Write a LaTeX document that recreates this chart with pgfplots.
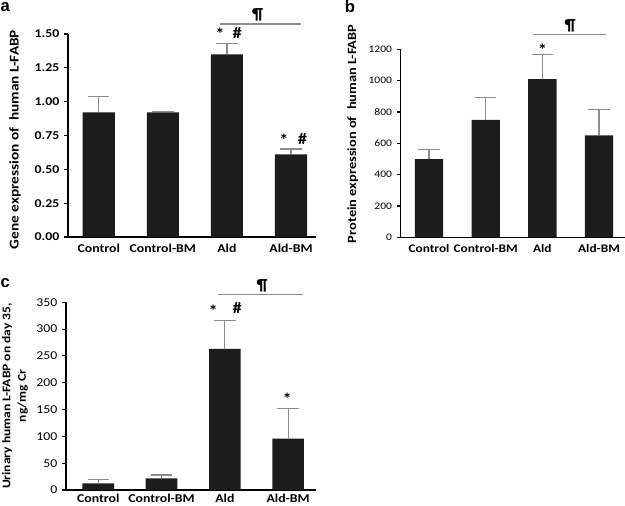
\documentclass[border=0pt]{standalone}
\usepackage{fontspec}
\setmainfont{Carlito}[FakeStretch=1.15]
\newfontfamily\letterfont{Liberation Sans}
\usepackage{pgfplots}
\pgfplotsset{compat=1.18}
\definecolor{barc}{HTML}{1C1C1C}
\definecolor{errc}{HTML}{8C8C8C}
\pgfplotsset{
 panel/.style={
  scale only axis, anchor=south west, clip=false,
  axis x line*=bottom, axis y line*=left,
  axis line style={-, line width=1pt},
  ybar, bar width=0.5, ymin=0,
  xtick={0,1,2,3}, xticklabels={Control, Control-BM, Ald, Ald-BM},
  x tick style={draw=none},
  y tick style={line width=0.8pt, black},
  tick align=outside, major tick length=3pt,
  xticklabel style={font=\fontsize{9}{10}\selectfont\bfseries, inner sep=1pt, yshift=-1pt},
  yticklabel style={font=\fontsize{9}{10}\selectfont},
  /pgf/number format/assume math mode=true,
  ylabel style={font=\fontsize{10}{11.5}\selectfont\bfseries, rotate=0, anchor=center},
 },
 errs/.style={fill=barc, draw=none,
  error bars/.cd, y dir=plus, y explicit,
  error bar style={errc, line width=0.9pt},
  error mark options={errc, line width=0.9pt, mark size=8pt, rotate=90}},
}
\begin{document}
\begin{tikzpicture}
\useasboundingbox (0,0) rectangle (468.75pt,-379.5pt);
% panel a
\begin{axis}[panel, at={(51pt,-177.75pt)}, width=186pt, height=152.25pt,
  xmin=-0.48, xmax=3.39, ymax=1.5, ytick={0,0.25,...,1.5},
  yticklabel style={font=\fontsize{9}{10}\selectfont\bfseries, /pgf/number format/.cd, fixed, fixed zerofill, precision=2},
  ylabel={Gene expression of \ human L-FABP},
  ylabel style={at={(axis description cs:-0.214,0.48)}}]
\addplot[errs] table[x=x, y=y, y error=e] {
x y e
0 0.92 0.12
1 0.92 0.01
2 1.35 0.08
3 0.61 0.04
};
\begin{scope}[font=\fontsize{12}{14}\selectfont\bfseries]
\node at (axis cs:1.89,1.50) {*};
\node at (axis cs:2.16,1.507) {\#};
\node at (axis cs:2.89,0.717) {*};
\node at (axis cs:3.18,0.724) {\#};
\draw[errc, line width=0.9pt] (axis cs:1.89,1.574) -- (axis cs:3.16,1.574);
\node at (axis cs:2.48,1.64) {¶};
\end{scope}
\end{axis}
% panel b
\begin{axis}[panel, at={(300.5pt,-178pt)}, width=168.2pt, height=141pt,
  xmin=-0.5, xmax=3.457, ymax=1200, ytick={0,200,...,1200},
  xticklabel style={font=\fontsize{8.7}{10}\selectfont\bfseries},
  yticklabel style={font=\fontsize{7.5}{9}\selectfont, /pgf/number format/1000 sep={}},
  ylabel={Protein expression of \ human L-FABP},
  ylabel style={font=\fontsize{9.4}{11}\selectfont\bfseries, at={(axis description cs:-0.214,0.55)}}]
\addplot[errs] table[x=x, y=y, y error=e] {
x y e
0 500 62
1 749 144
2 1010 156
3 651 166
};
\begin{scope}[font=\fontsize{12}{14}\selectfont\bfseries]
\node at (axis cs:2,1200) {*};
\draw[errc, line width=0.9pt] (axis cs:1.83,1296) -- (axis cs:3.13,1296);
\node at (axis cs:2.49,1349) {¶};
\end{scope}
\end{axis}
% panel c
\begin{axis}[panel, at={(49.5pt,-367.5pt)}, width=187.5pt, height=140.8pt,
  xmin=-0.51, xmax=3.44, ymax=350, ytick={0,50,...,350},
  xticklabel style={yshift=2.5pt},
  ylabel={Urinary human L-FABP on day 35,\\ ng/mg Cr},
  ylabel style={font=\fontsize{8.8}{11.5}\selectfont\bfseries, align=center, at={(axis description cs:-0.204,0.5)}}]
\addplot[errs] table[x=x, y=y, y error=e] {
x y e
0 12.4 7.6
1 21.8 6.2
2 263 53
3 96 56
};
\begin{scope}[font=\fontsize{12}{14}\selectfont\bfseries]
\node at (axis cs:1.817,335) {*};
\node at (axis cs:2.196,339) {\#};
\node at (axis cs:2.986,170) {*};
\draw[errc, line width=0.9pt] (axis cs:1.89,365) -- (axis cs:3.23,365);
\node at (axis cs:2.59,380) {¶};
\end{scope}
\end{axis}
\begin{scope}[font=\letterfont\fontsize{12.5}{14}\selectfont\bfseries]
\node[anchor=base, inner sep=0pt] at (4pt,-9pt) {a};
\node[anchor=base, inner sep=0pt] at (262.5pt,-9.75pt) {b};
\node[anchor=base, inner sep=0pt] at (4pt,-215.25pt) {c};
\end{scope}
\end{tikzpicture}
\end{document}
